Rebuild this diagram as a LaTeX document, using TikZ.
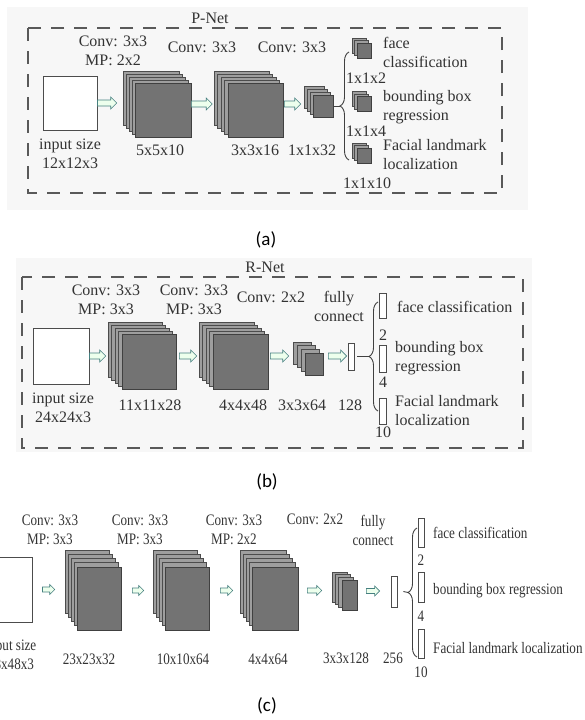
\documentclass[tikz,border=0pt]{standalone}
\usepackage{fontspec}
\setmainfont{Liberation Serif}
\newfontfamily\narrowfont{Liberation Serif}[FakeStretch=0.82]
\newfontfamily\capfont{Carlito}
\usetikzlibrary{calc,decorations.pathreplacing}

\tikzset{
  lbl/.style={font=\fontsize{16}{19}\selectfont, text=black!80, align=center, inner sep=0pt},
  lblc/.style={lbl, font=\narrowfont\fontsize{16}{19}\selectfont},
  captxt/.style={font=\capfont\fontsize{19}{22}\selectfont, inner sep=0pt},
  panelbg/.style={fill=black!3},
  panelbox/.style={draw=black!65, line width=1.6pt, dash pattern=on 13pt off 10pt},
  inbox/.style={draw=black!70, fill=white, line width=0.9pt, inner sep=0pt},
  fmap/.style={draw=black!75, fill=black!55, line width=0.6pt, inner sep=0pt},
  layer/.style={draw=black!70, fill=black!38, line width=0.6pt},
  fcbar/.style={draw=black!70, fill=white, line width=0.8pt, inner sep=0pt},
  stub/.style={draw=black!75, line width=0.9pt},
  brace/.style={decorate, decoration={brace, amplitude=9pt}, draw=black!75, line width=0.9pt},
  fatarrow/.style 2 args={draw=teal!45!gray, fill=green!7, line width=0.6pt,
    to path={let \p1=(\tikztostart), \p2=(\tikztotarget) in
      (\x1,\y1-#1) -- (\x2-#2,\y1-#1) -- (\x2-#2,\y1-2*#1) -- (\x2,\y1)
      -- (\x2-#2,\y1+2*#1) -- (\x2-#2,\y1+#1) -- (\x1,\y1+#1) -- cycle}},
}

\begin{document}
\begin{tikzpicture}[x=1pt, y=-1pt]
  \useasboundingbox (0,0) rectangle (584,720);
  \clip (0,0) rectangle (584,720);

  % (a) P-Net
  \fill[panelbg] (7,7) rectangle (528,210);
  \draw[panelbox] (28,28) rectangle (502,193);
  \node[lbl] (ttla) at (210,18) {P-Net};

  \node[inbox, minimum width=54pt, minimum height=54pt] (ina) at (70,103) {};
  \foreach \nm/\cx/\cy/\w/\h/\n/\dx/\dy in {
      pa1/163/110/56/54/4/3/3, pa2/255.5/110/55/54/4/3.5/3, pa3/323/106/20/22/3/3/3,
      oa1/364/50.5/14/15/2/2.5/2.5, oa2/364/104/14/15/2/2.5/2.5, oa3/364/155.5/14/15/2/2.5/2.5}{
    \foreach \k in {\n,...,1}
      \draw[layer] (\cx-\w/2-\k*\dx, \cy-\h/2-\k*\dy) rectangle ++(\w,\h);
    \node[fmap, minimum width=\w pt, minimum height=\h pt] (\nm) at (\cx,\cy) {};
  }
  \draw[fatarrow={3pt}{6pt}] (ina.east) to ([xshift=-18pt]pa1.west);
  \draw[fatarrow={3pt}{6pt}] ([yshift=6pt]pa1.east) to ([xshift=-15.5pt]pa2.west);
  \draw[fatarrow={3pt}{6pt}] ([xshift=1pt,yshift=6pt]pa2.east) to ([xshift=-12pt]pa3.west);

  \coordinate (bta) at (340,106);
  \draw[stub] (pa3.east) -- (bta);
  \draw[brace] (349,160) -- (349,52);

  \node[lbl] (cva1) at (113,51) {Conv: 3x3\\MP: 2x2};
  \node[lbl] (cva2) at (202,47) {Conv: 3x3};
  \node[lbl] (cva3) at (292,47) {Conv: 3x3};
  \node[lbl] (sza0) at (70,154) {input size\\12x12x3};
  \node[lbl] (sza1) at (160,150) {5x5x10};
  \node[lbl] (sza2) at (255,150) {3x3x16};
  \node[lbl] (sza3) at (312,150) {1x1x32};
  \node[lbl, anchor=west, align=left] (outa1) at (383,52.5) {face\\classification};
  \node[lbl] (nma1) at (366,78) {1x1x2};
  \node[lbl, anchor=west, align=left] (outa2) at (383,107) {bounding box\\regression};
  \node[lbl] (nma2) at (366,131) {1x1x4};
  \node[lbl, anchor=west, align=left] (outa3) at (383,155) {Facial landmark\\localization};
  \node[lbl] (nma3) at (367,183) {1x1x10};
  \node[captxt] (capa) at (266,240) {(a)};

  % (b) R-Net
  \fill[panelbg] (16,258) rectangle (532,452);
  \draw[panelbox] (22,277) rectangle (523,448);
  \node[lbl] (ttlb) at (265,267) {R-Net};

  \node[inbox, minimum width=56pt, minimum height=56pt] (inb) at (61,356) {};
  \foreach \nm/\cx/\cy/\w/\h/\n/\dx/\dy in {
      qb1/149/361.5/54/55/4/3.5/3, qb2/240.5/361.5/55/55/4/3.5/3, qb3/314/364/18/22/3/4/3.7}{
    \foreach \k in {\n,...,1}
      \draw[layer] (\cx-\w/2-\k*\dx, \cy-\h/2-\k*\dy) rectangle ++(\w,\h);
    \node[fmap, minimum width=\w pt, minimum height=\h pt] (\nm) at (\cx,\cy) {};
  }
  \node[fcbar, minimum width=6pt, minimum height=27pt] (fcb) at (351,356.5) {};
  \node[fcbar, minimum width=7pt, minimum height=25pt] (obb1) at (382.5,305.5) {};
  \node[fcbar, minimum width=7pt, minimum height=27pt] (obb2) at (382.5,358.5) {};
  \node[fcbar, minimum width=7pt, minimum height=26pt] (obb3) at (382.5,411) {};

  \draw[fatarrow={3pt}{6pt}] (inb.east) to ([xshift=-16pt]qb1.west);
  \draw[fatarrow={3pt}{6pt}] ([xshift=3pt,yshift=5.5pt]qb1.east) to ([xshift=-16pt]qb2.west);
  \draw[fatarrow={3pt}{6pt}] ([xshift=2pt,yshift=5.5pt]qb2.east) to ([xshift=-16pt]qb3.west);
  \draw[fatarrow={3pt}{6pt}] ([xshift=5pt,yshift=8pt]qb3.east) to ([xshift=-1pt]fcb.west);

  \coordinate (btb) at (369,356.5);
  \draw[stub] ([xshift=3pt]fcb.east) -- (btb);
  \draw[brace] (378,411) -- (378,302);

  \node[lbl] (cvb1) at (106,300) {Conv: 3x3\\MP: 3x3};
  \node[lbl] (cvb2) at (194,300) {Conv: 3x3\\MP: 3x3};
  \node[lbl] (cvb3) at (271,297) {Conv: 2x2};
  \node[lbl] (fclb) at (339,306) {fully\\connect};
  \node[lbl] (szb0) at (63,408) {input size\\24x24x3};
  \node[lbl] (szb1) at (150,405) {11x11x28};
  \node[lbl] (szb2) at (243,405) {4x4x48};
  \node[lbl] (szb3) at (302,405) {3x3x64};
  \node[lbl] (szb4) at (350,405) {128};
  \node[lbl, anchor=west] (outb1) at (397,307) {face classification};
  \node[lbl] (nmb1) at (383,335) {2};
  \node[lbl, anchor=west, align=left] (outb2) at (395,358.5) {bounding box\\regression};
  \node[lbl] (nmb2) at (383,382) {4};
  \node[lbl, anchor=west, align=left] (outb3) at (395,410.5) {Facial landmark\\localization};
  \node[lbl] (nmb3) at (383,432) {10};
  \node[captxt] (capb) at (267,482) {(b)};

  % (c) O-Net
  \node[inbox, minimum width=62pt, minimum height=65pt] (inc) at (1,589.5) {};
  \foreach \nm/\cx/\cy/\w/\h/\n/\dx/\dy in {
      rc1/99/598.5/44/63/4/3/4.25, rc2/187/598.5/44/63/4/3/4.25,
      rc3/275/598.5/46/63/4/3/4.25, rc4/349.5/595/15/30/3/3.3/2.7}{
    \foreach \k in {\n,...,1}
      \draw[layer] (\cx-\w/2-\k*\dx, \cy-\h/2-\k*\dy) rectangle ++(\w,\h);
    \node[fmap, minimum width=\w pt, minimum height=\h pt] (\nm) at (\cx,\cy) {};
  }
  \node[fcbar, minimum width=6pt, minimum height=31pt] (fcc) at (394,591.5) {};
  \node[fcbar, minimum width=6pt, minimum height=29pt] (occ1) at (421,532.5) {};
  \node[fcbar, minimum width=6pt, minimum height=30pt] (occ2) at (421,587) {};
  \node[fcbar, minimum width=6pt, minimum height=29pt] (occ3) at (421,643.5) {};

  \draw[fatarrow={2.5pt}{5pt}] ([xshift=10pt]inc.east) to ([xshift=-22pt]rc1.west);
  \draw[fatarrow={2.5pt}{5pt}] ([xshift=11pt,yshift=8pt]rc1.east) to ([xshift=-21pt]rc2.west);
  \draw[fatarrow={2.5pt}{5pt}] ([xshift=11pt,yshift=8pt]rc2.east) to ([xshift=-19pt]rc3.west);
  \draw[fatarrow={2.5pt}{5pt}] ([xshift=9pt,yshift=8pt]rc3.east) to ([xshift=-20pt]rc4.west);
  \draw[fatarrow={2.5pt}{5pt}] ([xshift=9pt,yshift=4pt]rc4.east) to ([xshift=-11pt]fcc.west);

  \coordinate (btc) at (408,592.5);
  \draw[stub] ([xshift=6pt]fcc.east) -- (btc);
  \draw[brace] (417,657) -- (417,528);

  \node[lblc] (cvc1) at (50,530) {Conv: 3x3\\MP: 3x3};
  \node[lblc] (cvc2) at (140,530) {Conv: 3x3\\MP: 3x3};
  \node[lblc] (cvc3) at (234,530) {Conv: 3x3\\MP: 2x2};
  \node[lblc] (cvc4) at (315,519) {Conv: 2x2};
  \node[lblc] (fclc) at (373,530) {fully\\connect};
  \node[lblc] (szc0) at (11,655) {input size\\48x48x3};
  \node[lblc] (szc1) at (89,659) {23x23x32};
  \node[lblc] (szc2) at (183,659) {10x10x64};
  \node[lblc] (szc3) at (268,659) {4x4x64};
  \node[lblc] (szc4) at (346,658) {3x3x128};
  \node[lblc] (szc5) at (393,658) {256};
  \node[lblc, anchor=west] (outc1) at (433,533) {face classification};
  \node[lblc] (nmc1) at (421,560) {2};
  \node[lblc, anchor=west] (outc2) at (433,591) {bounding box regression};
  \node[lblc] (nmc2) at (421,616) {4};
  \node[lblc, anchor=west] (outc3) at (433,648) {Facial landmark localization};
  \node[lblc] (nmc3) at (421,672) {10};
  \node[captxt] (capc) at (267,706) {(c)};
\end{tikzpicture}
\end{document}
